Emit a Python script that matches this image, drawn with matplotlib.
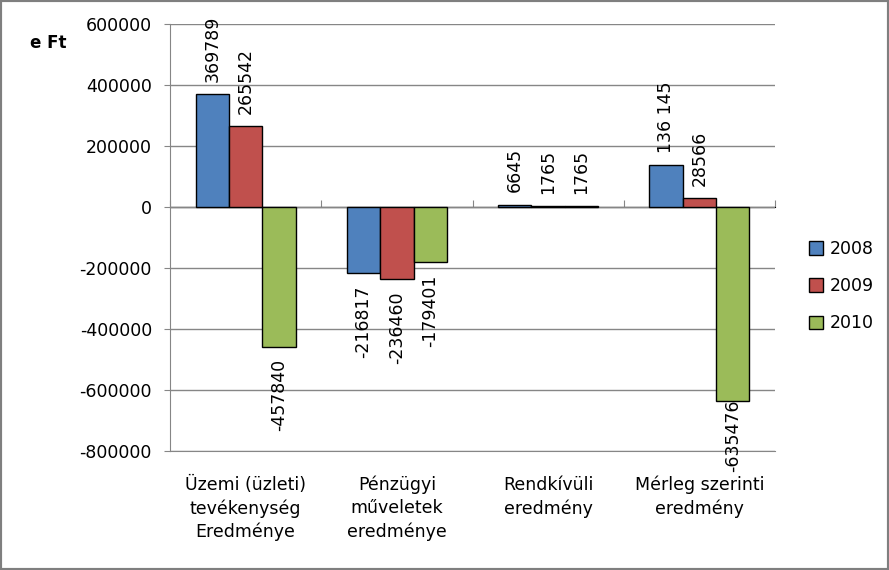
import numpy as np
import matplotlib.pyplot as plt
from matplotlib.patches import Rectangle

# data (e Ft)
categories = ['Üzemi (üzleti)\ntevékenység\nEredménye',
              'Pénzügyi\nműveletek\neredménye',
              'Rendkívüli\neredmény',
              'Mérleg szerinti\neredmény']
years = ['2008', '2009', '2010']
v2008 = [369789, -216817, 6645, 136145]
v2009 = [265542, -236460, 1765, 28566]
v2010 = [-457840, -179401, 1765, -635476]
label_2008 = ['369789', '-216817', '6645', '136 145']
label_2009 = ['265542', '-236460', '1765', '28566']
label_2010 = ['-457840', '-179401', '1765', '-635476']
colors = ['#4F81BD', '#C0504D', '#9BBB59']

plt.rcParams['font.family'] = 'DejaVu Sans'

fig = plt.figure(figsize=(8.89, 5.70), dpi=100)
ax = fig.add_axes([0.1912, 0.2088, 0.6806, 0.7491])

x = np.arange(1, len(categories) + 1)
width = 0.22
series = [v2008, v2009, v2010]
labels = [label_2008, label_2009, label_2010]
for i, (vals, labs) in enumerate(zip(series, labels)):
    bars = ax.bar(x + (i - 1) * width, vals, width, color=colors[i],
                  edgecolor='black', linewidth=1, label=years[i], zorder=3)
    for b, v, t in zip(bars, vals, labs):
        cx = b.get_x() + b.get_width() / 2
        if v >= 0:
            ax.annotate(t, (cx, v), xytext=(0, 9), textcoords='offset points',
                        rotation=90, ha='center', va='bottom', fontsize=12.5,
                        zorder=4)
        else:
            # labels near the bottom get pushed up to stay inside the chart
            off = -9 if v > -600000 else 1
            ax.annotate(t, (cx, v), xytext=(0, off), textcoords='offset points',
                        rotation=90, ha='center', va='top', fontsize=12.5,
                        zorder=4, annotation_clip=False)

ax.set_xlim(0.5, 4.5)
ax.set_ylim(-800000, 600000)
ax.set_yticks(np.arange(-800000, 600001, 200000))
ax.set_yticklabels([str(int(t)) for t in np.arange(-800000, 600001, 200000)])
ax.yaxis.grid(True, color='#868686', linewidth=1, zorder=0)
ax.tick_params(axis='y', length=4, color='#868686', pad=9, labelsize=12.5)
ax.set_xticks(x)
ax.set_xticklabels(categories, fontsize=12.5, linespacing=1.35)
ax.tick_params(axis='x', length=0, pad=18)

for s in ['top', 'right']:
    ax.spines[s].set_visible(False)
ax.spines['left'].set_color('#868686')
ax.spines['bottom'].set_color('#868686')

# zero line with category separators
ax.axhline(0, color='#868686', linewidth=1, zorder=2)
sec = ax.secondary_xaxis(8 / 14)
sec.set_xticks(np.arange(0.5, 4.6, 1))
sec.set_xticklabels([])
sec.tick_params(direction='out', length=5, color='#868686')
sec.spines['bottom'].set_visible(False)

fig.text(0.054, 0.925, 'e Ft', fontsize=12, fontweight='bold',
         ha='center', va='center')

ax.legend(loc='center left', bbox_to_anchor=(1.03, 0.386), frameon=False,
          fontsize=12.5, handlelength=0.8, handleheight=0.8,
          labelspacing=1.1, handletextpad=0.4)

fig.patches.append(Rectangle((0, 0), 1, 1, transform=fig.transFigure,
                             fill=False, edgecolor='#7f7f7f', linewidth=3))

fig.savefig('out.png', dpi=100)
